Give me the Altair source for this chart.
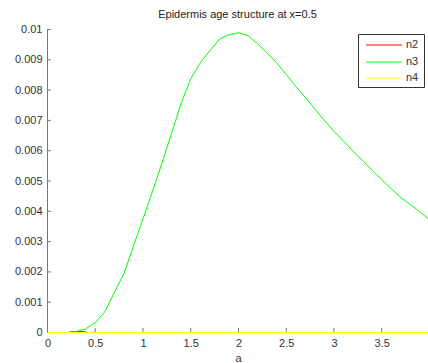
import altair as alt
import pandas as pd

# age values (a)
a_n3 = [0, 0.1, 0.2, 0.25, 0.3, 0.4, 0.5, 0.6, 0.7, 0.8, 0.9, 1.0, 1.1, 1.2, 1.3, 1.4,
        1.5, 1.6, 1.7, 1.8, 1.9, 2.0, 2.1, 2.2, 2.3, 2.4, 2.5, 2.6, 2.7, 2.8, 2.9,
        3.0, 3.1, 3.2, 3.3, 3.4, 3.5, 3.6, 3.7, 3.8, 3.9, 3.99]
v_n3 = [0, 0, 0, 0.00001, 0.00003, 0.00012, 0.00033, 0.00068, 0.00132, 0.00194, 0.00285,
        0.00375, 0.00466, 0.00560, 0.00658, 0.00757, 0.00837, 0.00890, 0.00930, 0.00968,
        0.00983, 0.00989, 0.00980, 0.00953, 0.00922, 0.00890, 0.00852, 0.00812, 0.00776,
        0.00737, 0.00700, 0.00664, 0.00632, 0.00598, 0.00567, 0.00536, 0.00505, 0.00474,
        0.00446, 0.00422, 0.00398, 0.00375]

a_n2 = [0, 0.22, 0.25, 0.38, 0.42, 1.0, 2.0, 3.0, 3.99]
v_n2 = [0, 0, 0.00003, 0.00003, 0, 0, 0, 0, 0]

a_n4 = [0, 1.0, 2.0, 3.0, 3.99]
v_n4 = [0, 0, 0, 0, 0]

series = ["n2", "n3", "n4"]
colors = ["#ff0000", "#00ff00", "#ffff00"]

x_ticks = [0, 0.5, 1, 1.5, 2, 2.5, 3, 3.5]
y_ticks = [0, 0.001, 0.002, 0.003, 0.004, 0.005, 0.006, 0.007, 0.008, 0.009, 0.01]

rows = []
for name, xs_, ys_ in [("n2", a_n2, v_n2), ("n3", a_n3, v_n3), ("n4", a_n4, v_n4)]:
    for i, (x, y) in enumerate(zip(xs_, ys_)):
        rows.append({"a": x, "v": y, "s": name, "i": i})
df = pd.DataFrame(rows)

# half-pixel ranges keep the 1px lines crisp
xs = alt.Scale(domain=[0, 3.99], nice=False, zero=False, range=[0.5, 381.5])
ys = alt.Scale(domain=[0, 0.01], nice=False, range=[303.5, 0.5])

FONT = "Liberation Sans"
FS = 11
TXT = "#333333"
AX = "#777777"

x_axis = alt.Axis(values=x_ticks, ticks=False, domain=False, grid=False, format="~g",
                  labelFont=FONT, labelFontSize=FS, labelColor=TXT,
                  labelPadding=5, titleFont=FONT, titleFontSize=FS,
                  titleFontWeight="normal", titleColor=TXT, titlePadding=4,
                  labelFlush=False, labelOverlap=False)
y_axis = alt.Axis(values=y_ticks, ticks=False, domain=False, grid=False, format="~g",
                  labelFont=FONT, labelFontSize=FS, labelColor=TXT,
                  labelPadding=5, labelFlush=False, labelOverlap=False)

xtick_df = pd.DataFrame({"t": x_ticks})
ytick_df = pd.DataFrame({"t": y_ticks})
one = pd.DataFrame({"k": [0]})

# axis lines and inward ticks (drawn beneath the data lines)
x_axis_line = alt.Chart(one).mark_rule(color=AX, strokeWidth=1).encode(
    x=alt.value(0), x2=alt.value(381), y=alt.value(303.5))
y_axis_line = alt.Chart(one).mark_rule(color=AX, strokeWidth=1).encode(
    x=alt.value(0.5), y=alt.value(0), y2=alt.value(304))
x_tick_marks = alt.Chart(xtick_df).mark_rule(color=AX, strokeWidth=1).encode(
    x=alt.X("t:Q", scale=xs, axis=x_axis, title="a"), y=alt.value(299), y2=alt.value(303))
y_tick_marks = alt.Chart(ytick_df).mark_rule(color=AX, strokeWidth=1).encode(
    y=alt.Y("t:Q", scale=ys, axis=y_axis, title=None), x=alt.value(1), x2=alt.value(4))

lines = alt.Chart(df).mark_line(strokeWidth=1).encode(
    x=alt.X("a:Q", scale=xs, title="a", axis=x_axis),
    y=alt.Y("v:Q", scale=ys, title=None, axis=y_axis),
    color=alt.Color("s:N", scale=alt.Scale(domain=series, range=colors), legend=None),
    order="i:Q",
)

# legend box (MATLAB style)
legend_box = alt.Chart(one).mark_rect(fill="white", stroke="#333333", strokeWidth=1).encode(
    x=alt.value(311.5), x2=alt.value(377.5), y=alt.value(5.5), y2=alt.value(58.5))
legend_layers = [legend_box]
row_y = [16, 33, 49]
for name, col, yy in zip(series, colors, row_y):
    legend_layers.append(
        alt.Chart(one).mark_rule(color=col, strokeWidth=1).encode(
            x=alt.value(319), x2=alt.value(355), y=alt.value(yy)))
    legend_layers.append(
        alt.Chart(one).mark_text(text=name, align="left", baseline="middle", font=FONT,
                                 fontSize=FS, color=TXT).encode(
            x=alt.value(359), y=alt.value(yy)))

chart = alt.layer(x_tick_marks, y_tick_marks, x_axis_line, y_axis_line, lines,
                  *legend_layers).properties(
    width=381, height=303,
    title=alt.Title("Epidermis age structure at x=0.5", font=FONT, fontSize=FS,
                    fontWeight="normal", color="#222222", anchor="middle", offset=4),
    autosize=alt.AutoSizeParams(type="none"),
    padding={"left": 47, "top": 29, "right": 0, "bottom": 31},
    background="white",
).configure_view(stroke=None)

chart.save("out.html", embed_options={"renderer": "svg", "actions": False})
